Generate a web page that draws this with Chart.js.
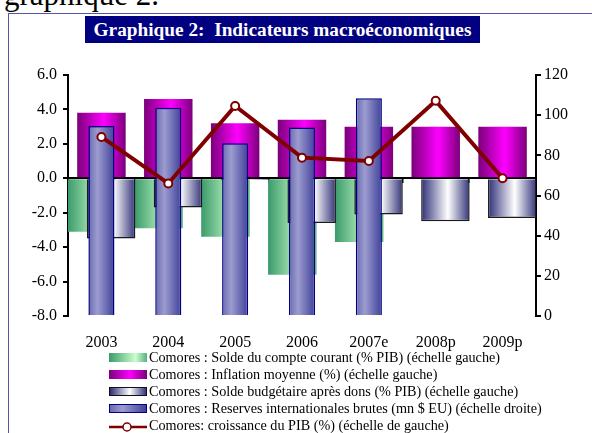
<!DOCTYPE html>
<html>
<head>
<meta charset="utf-8">
<script src="https://cdn.jsdelivr.net/npm/chart.js@4.4.1/dist/chart.umd.min.js"></script>
<style>
  body { margin: 0; width: 592px; height: 433px; overflow: hidden; position: relative; background: #fff;
         font-family: 'Liberation Serif', 'Times New Roman', serif; }
  #head { position: absolute; left: 4px; top: -21px; font-size: 31px; line-height: 31px; white-space: nowrap; }
  #frame { position: absolute; left: 8px; top: 13px; width: 700px; height: 600px; border: 1.5px solid #5555aa; }
  #title { position: absolute; left: 85px; top: 16px; width: 395px; height: 27px; background: #000080; color: #fff;
           font-weight: bold; font-size: 19.3px; line-height: 27px; text-align: center; white-space: pre; }
  canvas { position: absolute; left: 0; top: 0; }
  #legend { position: absolute; left: 109px; top: 349px; font-size: 14.2px; white-space: nowrap; }
  .row { height: 17px; display: flex; align-items: center; }
  .sw { width: 38px; height: 9px; margin-right: 2px; box-sizing: border-box; flex: none; }
</style>
</head>
<body>
<div id="head">graphique 2.</div>
<div id="frame"></div>
<div id="title">Graphique 2:  Indicateurs macroéconomiques</div>
<canvas id="chart" width="592" height="433"></canvas>
<div id="legend"></div>

<script>
const years = ['2003', '2004', '2005', '2006', '2007e', '2008p', '2009p'];

// left axis (% PIB / %)
const soldeCourant = [-3.1, -2.9, -3.4, -5.6, -3.7, null, null];
const inflation = [3.8, 4.6, 3.2, 3.4, 3.0, 3.0, 3.0];
const soldeBudget = [-3.5, -1.7, -0.1, -2.6, -2.1, -2.5, -2.3];
const croissance = [2.4, -0.3, 4.2, 1.2, 1.0, 4.5, 0.0];
// right axis (mn $ EU)
const reserves = [94.6, 103.7, 86.0, 93.8, 108.4, null, null];

const leftMin = -8, leftMax = 6, leftStep = 2;
const rightMin = 0, rightMax = 120, rightStep = 20;

const legendLabels = [
  'Comores : Solde du compte courant (% PIB) (échelle gauche)',
  'Comores : Inflation moyenne (%) (échelle gauche)',
  'Comores : Solde budgétaire après dons (% PIB) (échelle gauche)',
  'Comores : Reserves internationales brutes (mn $ EU) (échelle droite)',
  'Comores: croissance du PIB (%) (échelle de gauche)'
];

const serif = "'Liberation Serif', 'Times New Roman', serif";

const greenStops = [[0, '#3a9a6a'], [0.7, '#ccffcc'], [1, '#5aae80']];
const magentaStops = [[0, '#7a007a'], [0.55, '#ff00ff'], [1, '#7a007a']];
const whiteStops = [[0, '#2e2e78'], [0.55, '#ffffff'], [1, '#34347a']];
const blueStops = [[0, '#6a6ab0'], [0.35, '#9c9cd0'], [1, '#40409a']];

// horizontal gradient across each bar (needs the bar position, so the chart is updated twice)
function barGradient(stops, fallback) {
  return function(ctx) {
    const el = ctx.element;
    if (!el || !isFinite(el.x) || !isFinite(el.width)) return fallback;
    const g = ctx.chart.ctx.createLinearGradient(el.x - el.width / 2, 0, el.x + el.width / 2, 0);
    stops.forEach(s => g.addColorStop(s[0], s[1]));
    return g;
  };
}

function cssGradient(stops) {
  return 'linear-gradient(to right, ' + stops.map(s => s[1] + ' ' + (s[0] * 100) + '%').join(', ') + ')';
}

// negative percentages make the clustered bars run right-to-left, so the
// draw order (green under white) and the left-to-right placement both match Excel
const clusterCat = -0.435;
const clusterBar = -5.0;

const chart = new Chart(document.getElementById('chart'), {
  data: {
    labels: years,
    datasets: [
      {
        type: 'bar',
        label: legendLabels[0],
        data: soldeCourant,
        backgroundColor: barGradient(greenStops, '#8fd8a8'),
        categoryPercentage: clusterCat,
        barPercentage: clusterBar,
        order: 3
      },
      {
        type: 'bar',
        label: legendLabels[1],
        data: inflation,
        backgroundColor: barGradient(magentaStops, '#cc00cc'),
        categoryPercentage: clusterCat,
        barPercentage: clusterBar,
        order: 2
      },
      {
        type: 'bar',
        label: legendLabels[2],
        data: soldeBudget,
        backgroundColor: barGradient(whiteStops, '#ccccdd'),
        borderColor: '#1a1a1a',
        borderWidth: 1.5,
        borderSkipped: 'start',
        categoryPercentage: clusterCat,
        barPercentage: clusterBar,
        order: 1
      },
      {
        type: 'bar',
        label: legendLabels[3],
        data: reserves,
        yAxisID: 'y2',
        grouped: false,
        backgroundColor: barGradient(blueStops, '#8888c4'),
        borderColor: '#000080',
        borderWidth: 1.5,
        borderSkipped: 'start',
        categoryPercentage: 0.39,
        barPercentage: 1,
        order: 0
      },
      {
        type: 'line',
        label: legendLabels[4],
        data: croissance,
        borderColor: '#800000',
        borderWidth: 4,
        pointRadius: 4,
        pointBorderWidth: 2,
        pointBackgroundColor: '#ffffff',
        pointBorderColor: '#800000',
        tension: 0,
        order: -1
      }
    ]
  },
  options: {
    responsive: false,
    animation: false,
    events: [],
    layout: { padding: { left: 0, right: 0, top: 75, bottom: 0 } },
    plugins: { legend: { display: false }, tooltip: { enabled: false } },
    scales: {
      x: {
        type: 'category',
        offset: true,
        grid: { display: false, drawTicks: false },
        border: { display: false },
        ticks: { color: '#000', font: { family: serif, size: 16 }, padding: 17, maxRotation: 0 },
        afterFit: s => { s.height = 117; }
      },
      xz: {
        type: 'category',
        axis: 'x',
        position: { y: 0 },
        offset: true,
        z: 1,
        grid: { offset: true, drawOnChartArea: false, drawTicks: true, tickLength: 4, color: '#000', lineWidth: 1.5 },
        border: { display: true, color: '#000', width: 2 },
        ticks: { display: false }
      },
      y: {
        position: 'left',
        min: leftMin,
        max: leftMax,
        ticks: { stepSize: leftStep, color: '#000', font: { family: serif, size: 16 }, padding: 6,
                 callback: v => v.toFixed(1) },
        grid: { drawOnChartArea: false, tickLength: 5, tickColor: '#000', lineWidth: 2 },
        border: { color: '#000', width: 2 },
        afterFit: s => { s.width = 68; }
      },
      y2: {
        position: 'right',
        min: rightMin,
        max: rightMax,
        ticks: { stepSize: rightStep, color: '#000', font: { family: serif, size: 16 }, padding: 3 },
        grid: { drawOnChartArea: false, tickLength: 5, tickColor: '#000', lineWidth: 2 },
        border: { color: '#000', width: 2 },
        afterFit: s => { s.width = 56; }
      }
    }
  }
});
// second pass: bars now have positions, so the gradients can be built
chart.update();

// legend
const legend = document.getElementById('legend');
const swatches = [
  { bg: cssGradient(greenStops) },
  { bg: cssGradient(magentaStops) },
  { bg: cssGradient(whiteStops), border: '1.5px solid #111' },
  { bg: cssGradient(blueStops), border: '1.5px solid #000080' },
  null
];
legendLabels.forEach((txt, i) => {
  const row = document.createElement('div');
  row.className = 'row';
  const sw = document.createElement('div');
  sw.className = 'sw';
  if (swatches[i]) {
    sw.style.background = swatches[i].bg;
    if (swatches[i].border) sw.style.border = swatches[i].border;
  } else {
    sw.style.height = '12px';
    sw.innerHTML = '<svg width="38" height="12"><line x1="0" y1="6" x2="38" y2="6" stroke="#800000" stroke-width="2.5"/>' +
                   '<circle cx="18" cy="6" r="4" fill="#fff" stroke="#800000" stroke-width="1.5"/></svg>';
  }
  const t = document.createElement('span');
  t.textContent = txt;
  row.appendChild(sw);
  row.appendChild(t);
  legend.appendChild(row);
});
</script>
</body>
</html>
